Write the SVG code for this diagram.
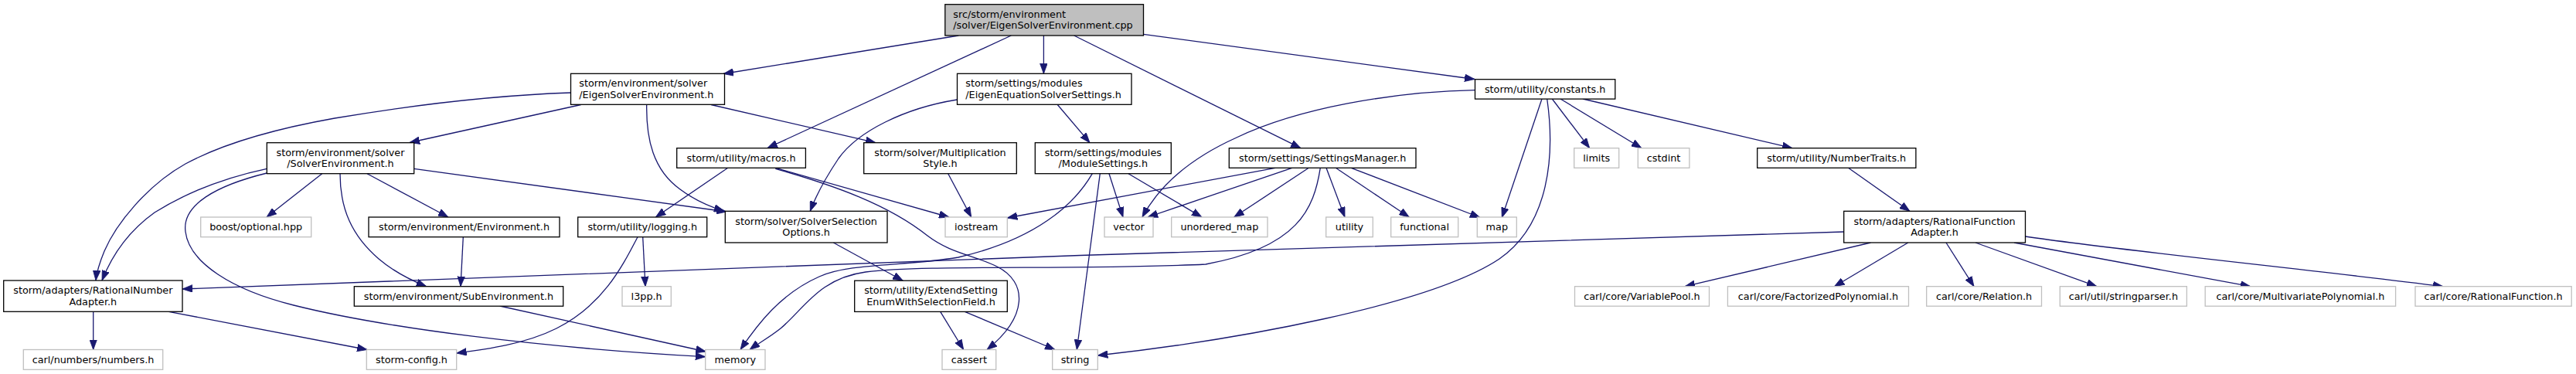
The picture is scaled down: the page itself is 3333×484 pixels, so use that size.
<svg xmlns="http://www.w3.org/2000/svg" width="3333" height="484" viewBox="0 0 3333 484">
<style>
.n rect{fill:#fff;stroke:#000;stroke-width:1.3}
.x rect{fill:#fff;stroke:#bfbfbf;stroke-width:1.3}
#n1 rect{fill:#bfbfbf}
text{font-family:"DejaVu Sans","Liberation Sans",sans-serif;font-size:12.8px;fill:#000}
.m{text-anchor:middle}
.c path{fill:none;stroke:#191970;stroke-width:1.3;marker-end:url(#a)}
</style>
<defs>
<marker id="a" markerUnits="userSpaceOnUse" markerWidth="14" markerHeight="10" refX="13" refY="5" orient="auto" viewBox="0 0 14 10"><path d="M0,0.2 L13,5 L0,9.8 z" fill="#191970" stroke="#191970" stroke-width="0.8"/></marker>
</defs>
<rect width="3333" height="484" fill="#fff"/>
<g class="c" id="edges">
<path d="M1240.3,46 L936,95.5"/>
<path d="M1308.3,46 L993,191.5"/>
<path d="M1350.4,46 L1350.4,95.3"/>
<path d="M1389.7,46 L1683,191.7"/>
<path d="M1479.5,44.3 L1908,102.5"/>
<path d="M751.7,135.5 L530,184.5"/>
<path d="M738.3,120 C650,123 540,135 433,153 C360,166 290,185 240,212 C190,240 150,290 135,325 C128,342 125,352 124,363"/>
<path d="M345.3,218.3 C290,230 240,250 200,275 C165,300 145,330 132,363"/>
<path d="M345.3,224 C280,240 235,265 240,300 C245,340 300,375 380,395 C500,425 700,450 912.7,461.7"/>
<path d="M416.7,224.7 L345,281"/>
<path d="M440,224.7 C440,270 455,305 490,335 C510,352 530,362 551.7,370.7"/>
<path d="M475,224.7 L580,281"/>
<path d="M535.7,218.3 L940,274"/>
<path d="M836.7,135.5 C836,180 845,220 880,245 C900,260 920,268 937,273.3"/>
<path d="M920,135.5 L1133,184.7"/>
<path d="M941.7,217.3 L848.3,281"/>
<path d="M1003.3,217.3 L1228,281"/>
<path d="M1003.3,218.3 C1080,240 1150,265 1200,305 C1230,328 1260,330 1290,345 C1330,365 1330,410 1277,452.5"/>
<path d="M1238.3,129 C1170,140 1110,170 1085,205 C1065,235 1055,255 1048.3,273.3"/>
<path d="M1368.3,135.5 L1410,184.7"/>
<path d="M1226.7,224.7 L1256.7,281"/>
<path d="M1413.3,224.7 C1390,265 1340,310 1240,333 C1170,345 1100,340 1060,358 C1010,380 980,420 958,452.5"/>
<path d="M1423.3,224.7 L1393.3,452.5"/>
<path d="M1435,224.7 L1453,281"/>
<path d="M1460,224.7 L1555,281"/>
<path d="M1650,217.3 L1303.3,282"/>
<path d="M1671.7,217.3 L1485,281"/>
<path d="M1693.3,217.3 L1596.7,281"/>
<path d="M1708.3,217.3 C1700,270 1680,320 1560,342 C1400,350 1200,342 1120,352 C1060,360 1040,400 1010,425 C995,437 980,445 970,452.5"/>
<path d="M1716,217.3 L1740,281"/>
<path d="M1728.3,217.3 L1823.3,281"/>
<path d="M1748.3,217.3 L1915,281.5"/>
<path d="M1908.3,116.7 C1800,119 1680,140 1600,178 C1540,205 1500,240 1478,281"/>
<path d="M1995,128 L1943.3,281.5"/>
<path d="M2001.7,128 C2012,200 2005,290 1940,335 C1850,395 1600,440 1420.3,460"/>
<path d="M2008.3,128 L2056.7,191.7"/>
<path d="M2019,128 L2124,191.7"/>
<path d="M2048,128 L2319,191.7"/>
<path d="M2391.5,217.3 L2471,273.3"/>
<path d="M2385.7,300 C1700,320 900,345 236,374"/>
<path d="M2420.4,314 L2180,370.7"/>
<path d="M2468.8,314 L2373.4,370.7"/>
<path d="M2518,314 L2554,370.7"/>
<path d="M2556,314 L2713,370.7"/>
<path d="M2606,314 L2911.8,370.7"/>
<path d="M2620.5,306 C2750,325 3000,350 3161,370.7"/>
<path d="M120.7,403.3 L120.7,452.5"/>
<path d="M218.3,403.3 L475,452.5"/>
<path d="M599.3,306.7 L596,370.7"/>
<path d="M646.7,396 L913.3,455"/>
<path d="M831.7,306.7 L835,370.7"/>
<path d="M825,306.7 C805,345 780,395 720,425 C680,445 630,452 590.7,457"/>
<path d="M1078.3,314 L1168.3,363.2"/>
<path d="M1216.7,403.3 L1246.7,452.5"/>
<path d="M1248.3,403.3 L1365,452.5"/>
</g>
<g id="n1" class="n"><rect x="1222.8" y="5.7" width="256.7" height="40.3"/><text x="1233.3" y="22.9">src/storm/environment</text><text x="1233.3" y="37.4">/solver/EigenSolverEnvironment.cpp</text></g>
<g id="n2" class="n"><rect x="738.5" y="95.3" width="199" height="40"/><text x="749.3" y="112.3">storm/environment/solver</text><text x="749.3" y="126.8">/EigenSolverEnvironment.h</text></g>
<g id="n3" class="n"><rect x="345.3" y="184.7" width="190.4" height="40"/><text class="m" x="440.5" y="201.7">storm/environment/solver</text><text class="m" x="440.5" y="216.2">/SolverEnvironment.h</text></g>
<g id="n4" class="n"><rect x="875.7" y="191.7" width="166.7" height="25.6"/><text class="m" x="959.05" y="208.8">storm/utility/macros.h</text></g>
<g id="n5" class="n"><rect x="1238.5" y="95.3" width="225.5" height="40"/><text x="1249.3" y="112.3">storm/settings/modules</text><text x="1249.3" y="126.8">/EigenEquationSolverSettings.h</text></g>
<g id="n6" class="n"><rect x="1117.7" y="184.7" width="197.6" height="40"/><text class="m" x="1216.5" y="201.7">storm/solver/Multiplication</text><text class="m" x="1216.5" y="216.2">Style.h</text></g>
<g id="n7" class="n"><rect x="1339.3" y="184.7" width="176" height="40"/><text class="m" x="1427.3" y="201.7">storm/settings/modules</text><text class="m" x="1427.3" y="216.2">/ModuleSettings.h</text></g>
<g id="n8" class="n"><rect x="1590.3" y="191.7" width="241.7" height="25.6"/><text class="m" x="1711.15" y="208.8">storm/settings/SettingsManager.h</text></g>
<g id="n9" class="n"><rect x="1908.5" y="102.7" width="181.3" height="25.4"/><text class="m" x="1999.15" y="119.7">storm/utility/constants.h</text></g>
<g id="n10" class="x"><rect x="2036.7" y="191.7" width="58" height="25.6"/><text class="m" x="2065.7" y="208.8">limits</text></g>
<g id="n11" class="x"><rect x="2119.3" y="191.7" width="66.6" height="25.6"/><text class="m" x="2152.6" y="208.8">cstdint</text></g>
<g id="n12" class="n"><rect x="2273.7" y="191.7" width="205.2" height="25.6"/><text class="m" x="2376.3" y="208.8">storm/utility/NumberTraits.h</text></g>
<g id="n13" class="x"><rect x="259.7" y="281" width="143" height="25.7"/><text class="m" x="331.2" y="298.2">boost/optional.hpp</text></g>
<g id="n14" class="n"><rect x="477" y="281" width="247" height="25.7"/><text class="m" x="600.5" y="298.2">storm/environment/Environment.h</text></g>
<g id="n15" class="n"><rect x="747.7" y="281" width="167" height="25.7"/><text class="m" x="831.2" y="298.2">storm/utility/logging.h</text></g>
<g id="n16" class="n"><rect x="938.3" y="273.3" width="209.7" height="40.7"/><text class="m" x="1043.15" y="290.7">storm/solver/SolverSelection</text><text class="m" x="1043.15" y="305.2">Options.h</text></g>
<g id="n17" class="x"><rect x="1223" y="281" width="80.3" height="25.7"/><text class="m" x="1263.15" y="298.2">iostream</text></g>
<g id="n18" class="x"><rect x="1429" y="281" width="63" height="25.7"/><text class="m" x="1460.5" y="298.2">vector</text></g>
<g id="n19" class="x"><rect x="1515.7" y="281" width="124.3" height="25.7"/><text class="m" x="1577.85" y="298.2">unordered_map</text></g>
<g id="n20" class="x"><rect x="1715.7" y="281" width="60.6" height="25.7"/><text class="m" x="1746" y="298.2">utility</text></g>
<g id="n21" class="x"><rect x="1799.7" y="281" width="87" height="25.7"/><text class="m" x="1843.2" y="298.2">functional</text></g>
<g id="n22" class="x"><rect x="1911.3" y="281" width="51" height="25.7"/><text class="m" x="1936.8" y="298.2">map</text></g>
<g id="n23" class="n"><rect x="2385.7" y="273.3" width="234.8" height="40.7"/><text class="m" x="2503.1" y="290.7">storm/adapters/RationalFunction</text><text class="m" x="2503.1" y="305.2">Adapter.h</text></g>
<g id="n24" class="n"><rect x="4.7" y="363" width="231.3" height="40.3"/><text class="m" x="120.35" y="380.2">storm/adapters/RationalNumber</text><text class="m" x="120.35" y="394.7">Adapter.h</text></g>
<g id="n25" class="n"><rect x="458.3" y="370.7" width="270.4" height="25.5"/><text class="m" x="593.5" y="387.8">storm/environment/SubEnvironment.h</text></g>
<g id="n26" class="x"><rect x="805" y="370.7" width="63.3" height="25.5"/><text class="m" x="836.65" y="387.8">l3pp.h</text></g>
<g id="n27" class="n"><rect x="1105.7" y="363.2" width="197.6" height="40.2"/><text class="m" x="1204.5" y="380.3">storm/utility/ExtendSetting</text><text class="m" x="1204.5" y="394.8">EnumWithSelectionField.h</text></g>
<g id="n28" class="x"><rect x="2037.5" y="370.7" width="174" height="25.5"/><text class="m" x="2124.5" y="387.8">carl/core/VariablePool.h</text></g>
<g id="n29" class="x"><rect x="2235.4" y="370.7" width="234.1" height="25.5"/><text class="m" x="2352.45" y="387.8">carl/core/FactorizedPolynomial.h</text></g>
<g id="n30" class="x"><rect x="2492.7" y="370.7" width="148.8" height="25.5"/><text class="m" x="2567.1" y="387.8">carl/core/Relation.h</text></g>
<g id="n31" class="x"><rect x="2665.3" y="370.7" width="164.1" height="25.5"/><text class="m" x="2747.35" y="387.8">carl/util/stringparser.h</text></g>
<g id="n32" class="x"><rect x="2853.2" y="370.7" width="246.4" height="25.5"/><text class="m" x="2976.4" y="387.8">carl/core/MultivariatePolynomial.h</text></g>
<g id="n33" class="x"><rect x="3125" y="370.7" width="202.2" height="25.5"/><text class="m" x="3226.1" y="387.8">carl/core/RationalFunction.h</text></g>
<g id="n34" class="x"><rect x="30.3" y="452.5" width="180.4" height="25.8"/><text class="m" x="120.5" y="469.7">carl/numbers/numbers.h</text></g>
<g id="n35" class="x"><rect x="474.3" y="452.5" width="116.4" height="25.8"/><text class="m" x="532.5" y="469.7">storm-config.h</text></g>
<g id="n36" class="x"><rect x="912.7" y="452.5" width="77.3" height="25.8"/><text class="m" x="951.35" y="469.7">memory</text></g>
<g id="n37" class="x"><rect x="1219" y="452.5" width="69.7" height="25.8"/><text class="m" x="1253.85" y="469.7">cassert</text></g>
<g id="n38" class="x"><rect x="1361.7" y="452.5" width="58.6" height="25.8"/><text class="m" x="1391" y="469.7">string</text></g>
</svg>
